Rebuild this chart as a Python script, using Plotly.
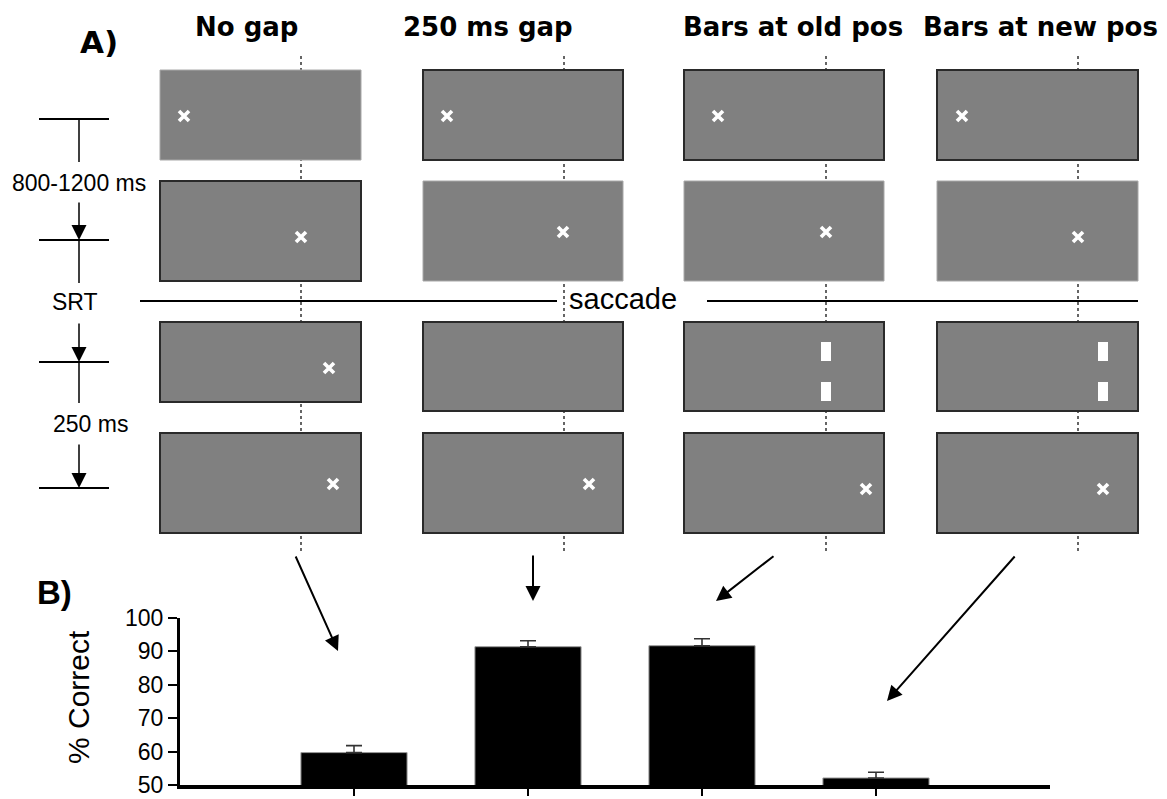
import plotly.graph_objects as go

# ---------------- data ----------------
conditions = ["No gap", "250 ms gap", "Bars at old pos", "Bars at new pos"]
pct_correct = [59.7, 91.4, 91.7, 52.1]
sem = [2.1, 1.8, 2.1, 1.7]
y_ticks = [50, 60, 70, 80, 90, 100]
timeline_labels = ["800-1200 ms", "SRT", "250 ms"]
saccade_label = "saccade"
panel_labels = ["A)", "B)"]

W, H = 1167, 799
SANS = "Liberation Sans, Arial, sans-serif"
BOLD = "DejaVu Sans, Verdana, sans-serif"
GREY = "#808080"

fig = go.Figure()

# ---------------- bar chart (panel B) ----------------
xpos = list(range(1, len(conditions) + 1))
fig.add_trace(go.Bar(
    x=xpos, y=pct_correct, width=0.61,
    marker=dict(color="black", line=dict(color="#9a9a9a", width=1)),
    error_y=dict(type="data", array=sem, arrayminus=[0] * len(sem), symmetric=False,
                 color="#333333", thickness=1.6, width=8),
    xaxis="x", yaxis="y", showlegend=False, hoverinfo="skip",
))

# ---------------- diagram (panel A) on a pixel overlay ----------------
col_x = [(160, 361), (423, 623), (684, 884), (937, 1138)]
dot_x = [301, 564, 826, 1078]
rows_y = [[(70, 160), (181, 281), (322, 402), (433, 533)],
          [(70, 160), (181, 281), (322, 411), (433, 533)],
          [(70, 160), (181, 281), (322, 411), (433, 533)],
          [(70, 160), (181, 281), (322, 411), (433, 533)]]
bordered = [[False, True, True, True],
            [True, False, True, True],
            [True, False, True, True],
            [True, False, True, True]]

shapes = []
def shp(**kw):
    kw.setdefault("xref", "x2")
    kw.setdefault("yref", "y2")
    kw.setdefault("layer", "below")
    shapes.append(kw)

# dotted vertical guides (behind screens)
for dx in dot_x:
    shp(type="line", x0=dx, x1=dx, y0=56, y1=552,
        line=dict(color="#333333", width=1.5, dash="dot"))
# screens
for c, (x0, x1) in enumerate(col_x):
    for r, (y0, y1) in enumerate(rows_y[c]):
        shp(type="rect", x0=x0, x1=x1, y0=y0, y1=y1, fillcolor=GREY,
            line=dict(color="#2a2a2a" if bordered[c][r] else "#a8a8a8",
                      width=2 if bordered[c][r] else 1))
# white bars in post-saccadic screens
for bx in (826, 1103):
    for (y0, y1) in ((342, 361), (382, 401)):
        shp(type="rect", x0=bx - 5, x1=bx + 5, y0=y0, y1=y1,
            fillcolor="white", line=dict(width=0))
# saccade line
shp(type="line", x0=140, x1=557, y0=301, y1=301, line=dict(color="black", width=2))
shp(type="line", x0=707, x1=1138, y0=301, y1=301, line=dict(color="black", width=2))
# timeline ticks
for ty in (119, 240, 362, 488):
    shp(type="line", x0=39, x1=109, y0=ty, y1=ty, line=dict(color="black", width=2))
# plain timeline segments
for (y0, y1) in ((119, 162), (240, 283), (362, 403)):
    shp(type="line", x0=79, x1=79, y0=y0, y1=y1, line=dict(color="black", width=1.5))

# fixation crosses
cross_x = [184, 301, 329, 333, 447, 563, 589, 718, 826, 866, 962, 1078, 1103]
cross_y = [116, 237, 368, 484, 116, 232, 484, 116, 232, 489, 116, 237, 489]
fig.add_trace(go.Scatter(
    x=cross_x, y=cross_y, mode="markers", xaxis="x2", yaxis="y2",
    marker=dict(symbol="x-thin", size=10, line=dict(color="white", width=3.6)),
    showlegend=False, hoverinfo="skip",
))

annotations = []
def txt(x, y, s, size, family=SANS, weight="normal", **kw):
    annotations.append(dict(x=x, y=y, xref="x2", yref="y2", text=s, showarrow=False,
                            xanchor="center", yanchor="middle",
                            font=dict(family=family, size=size, color="black", weight=weight), **kw))

def arrow(tx, ty, hx, hy, width=2, size=1.5):
    annotations.append(dict(x=hx, y=hy, ax=tx, ay=ty, xref="x2", yref="y2", axref="x2", ayref="y2",
                            text="", showarrow=True, arrowhead=2, arrowsize=size, arrowwidth=width,
                            arrowcolor="black", standoff=0, startstandoff=0))

# column titles
title_x = [246, 488, 793, 1040]
for tx_, name in zip(title_x, conditions):
    txt(tx_, 27, name, 26, family=BOLD, weight="bold")
txt(99, 42, panel_labels[0], 31, family=BOLD, weight="bold")
txt(54, 592, panel_labels[1], 33, family=SANS, weight="bold")

# timeline labels
txt(79, 183, timeline_labels[0], 23)
txt(75, 302, timeline_labels[1], 23)
txt(90, 424, timeline_labels[2], 23)
txt(623, 299, saccade_label, 29)

# timeline arrows
arrow(79, 201, 79, 240, width=1.5, size=2.0)
arrow(79, 322, 79, 362, width=1.5, size=2.0)
arrow(79, 443, 79, 488, width=1.5, size=2.0)

# arrows from screens to bars
arrow(295, 555, 338, 651)
arrow(533, 554, 533, 601)
arrow(775, 555, 716, 601)
arrow(1016, 555, 887, 701)

# y-axis title
annotations.append(dict(x=78, y=697, xref="x2", yref="y2", text="% Correct", showarrow=False,
                        textangle=-90, xanchor="center", yanchor="middle",
                        font=dict(family=SANS, size=30, color="black")))

fig.update_layout(
    template="none",
    width=W, height=H, autosize=False,
    margin=dict(l=0, r=0, t=0, b=0, pad=0),
    paper_bgcolor="white", plot_bgcolor="rgba(0,0,0,0)",
    shapes=shapes, annotations=annotations,
    bargap=0, showlegend=False,
    xaxis=dict(domain=[180 / W, 1050 / W], range=[0, 5], anchor="y", automargin=False,
               showline=True, linecolor="black", linewidth=4,
               tickvals=xpos, ticktext=[""] * len(xpos), ticks="outside", ticklen=7,
               tickwidth=1.5, tickcolor="black", showgrid=False, zeroline=False, fixedrange=True),
    yaxis=dict(domain=[1 - 785 / H, 1 - 618 / H], range=[50, 100], anchor="x", automargin=False,
               showline=True, linecolor="black", linewidth=3,
               tickvals=y_ticks, ticks="outside", ticklen=9, tickwidth=2, tickcolor="black",
               tickfont=dict(family=SANS, size=23, color="black"), ticklabeloverflow="allow",
               showgrid=False, zeroline=False, fixedrange=True),
    xaxis2=dict(domain=[0, 1], range=[0, W], anchor="y2", visible=False, fixedrange=True,
                automargin=False),
    yaxis2=dict(domain=[0, 1], range=[H, 0], anchor="x2", visible=False, fixedrange=True,
                automargin=False),
)

fig.write_html("out.html", config={"displayModeBar": False, "staticPlot": True},
               post_script="document.body.style.margin='0px';")
